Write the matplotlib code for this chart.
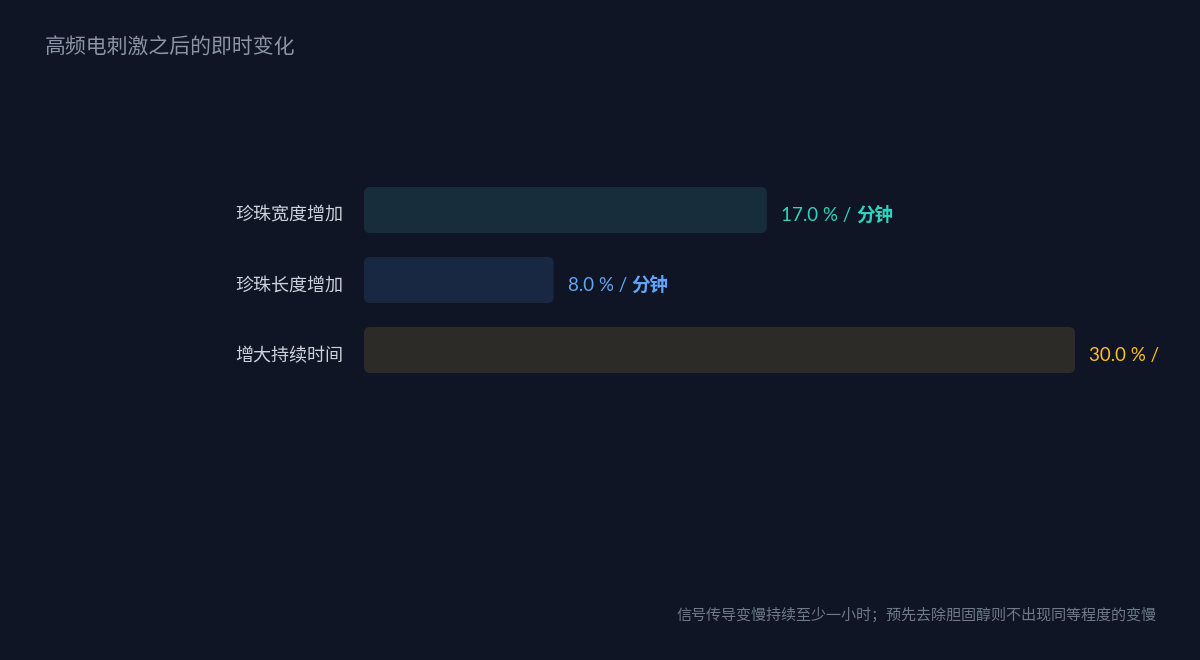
import matplotlib
matplotlib.use("Agg")
import matplotlib.pyplot as plt
from matplotlib.patches import FancyBboxPatch

# ---- data ----
categories = ["珍珠宽度增加", "珍珠长度增加", "增大持续时间"]
values = [17.0, 8.0, 30.0]
unit = "分钟"
title = "高频电刺激之后的即时变化"
footnote = "信号传导变慢持续至少一小时；预先去除胆固醇则不出现同等程度的变慢"

# ---- style ----
BG = "#0f1524"
bar_colors = ["#172d3b", "#182842", "#2c2b28"]
text_colors = ["#2dd4bf", "#60a5fa", "#fbbf24"]
CJK = ["Noto Sans CJK SC", "DejaVu Sans"]
NUM = ["Lato", "Noto Sans CJK SC", "DejaVu Sans"]

W, H = 1200, 660
fig = plt.figure(figsize=(W / 100, H / 100), dpi=100, facecolor=BG)

# axes: x from 364px to 1160px; y from 140px to 420px (top-based)
ax_left, ax_right = 364, 1160
ax_top, ax_bot = 140, 420
ax = fig.add_axes([ax_left / W, 1 - ax_bot / H, (ax_right - ax_left) / W, (ax_bot - ax_top) / H])
ax.set_facecolor(BG)
px_per_unit = 23.7
ax.set_xlim(0, (ax_right - ax_left) / px_per_unit)
ax.set_ylim(3, -1)
ax.axis("off")

bar_h = 46 / 70
radius_px = 6
rs = radius_px / px_per_unit
aspect = px_per_unit / 70

bars = ax.barh(range(len(values)), values, height=bar_h, color="none")
for i, b in enumerate(bars):
    x0, y0 = b.get_x(), b.get_y()
    w, h = b.get_width(), b.get_height()
    p = FancyBboxPatch((x0, y0), w, h,
                       boxstyle=f"round,pad=0,rounding_size={rs}",
                       mutation_aspect=aspect,
                       facecolor=bar_colors[i], edgecolor="none")
    ax.add_patch(p)

    # value label
    xoff = 14 / px_per_unit
    t1 = ax.text(values[i] + xoff, i + 0.08, f"{values[i]:.1f} % / ",
                 color=text_colors[i], fontsize=13.5, family=NUM,
                 fontweight="normal", va="center", ha="left", clip_on=True)
    ax.annotate(unit, xy=(1, 0.5), xycoords=t1, va="center", ha="left",
                color=text_colors[i], fontsize=13.3, family=CJK,
                fontweight="bold", clip_on=True, annotation_clip=False)

    # category label
    fig.text((ax_left - 21) / W, 1 - (210 + 70 * i + 6) / H, categories[i],
             color="#cdd3dc", fontsize=13, family=CJK, ha="right", va="center")

fig.text(45 / W, 1 - 48 / H, title, color="#8b95a7", fontsize=15,
         family=CJK, ha="left", va="center")
fig.text(1156 / W, 1 - 615 / H, footnote, color="#6f7a8b", fontsize=10.85,
         family=CJK, ha="right", va="center")

fig.savefig("out.png", dpi=100, facecolor=BG)
